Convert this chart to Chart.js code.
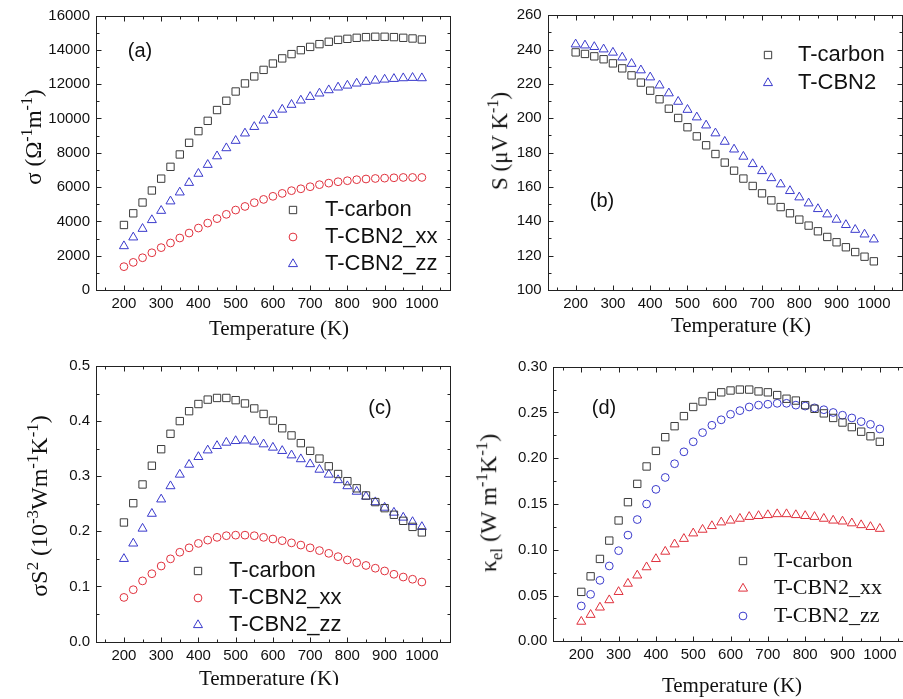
<!DOCTYPE html>
<html>
<head>
<meta charset="utf-8">
<script src="https://cdn.jsdelivr.net/npm/chart.js@4.4.0/dist/chart.umd.min.js"></script>
<style>
    body { margin: 0; background: #fff; }
    #page { position: relative; width: 903px; height: 699px; overflow: hidden; background: #fff; }
    canvas { position: absolute; }
    .ytitle { position: absolute; font-family: "Liberation Serif", "Times New Roman", serif; font-size: 22px; white-space: nowrap; color: #111; transform: translate(-50%, -50%) rotate(-90deg); line-height: 1; }
    .ytitle sup, .ytitle sub { font-size: 70%; }
    .xtitle { position: absolute; font-family: "Liberation Serif", "Times New Roman", serif; font-size: 21px; white-space: nowrap; color: #111; transform: translate(-50%, -50%); }
    .tag { position: absolute; font-family: "Liberation Sans", Arial, sans-serif; font-size: 20px; color: #111; transform: translate(-50%, -50%); }
    #clipC { position: absolute; left: 0; top: 660px; width: 460px; height: 25px; overflow: hidden; }
</style>
</head>
<body>
<div id="page">
    <canvas id="chartA" width="456" height="340" style="left:0px;top:0px"></canvas>
    <canvas id="chartB" width="456" height="340" style="left:452px;top:0px"></canvas>
    <canvas id="chartC" width="456" height="340" style="left:0px;top:350px"></canvas>
    <canvas id="chartD" width="457" height="340" style="left:457px;top:350px"></canvas>

    <div class="ytitle" style="left:32px;top:137px;font-size:23px">σ (Ω<sup>-1</sup>m<sup>-1</sup>)</div>
    <div class="ytitle" style="left:498px;top:141px;font-size:23px">S (μV K<sup>-1</sup>)</div>
    <div class="ytitle" style="left:38px;top:506px;font-size:24px">σS<sup>2</sup> (10<sup>-3</sup>Wm<sup>-1</sup>K<sup>-1</sup>)</div>
    <div class="ytitle" style="left:490px;top:503px;font-size:24px">κ<sub>el</sub> (W m<sup>-1</sup>K<sup>-1</sup>)</div>

    <div class="xtitle" style="left:279px;top:328px">Temperature (K)</div>
    <div class="xtitle" style="left:741px;top:325px">Temperature (K)</div>
    <div id="clipC"><div class="xtitle" style="left:269px;top:18px">Temperature (K)</div></div>
    <div class="xtitle" style="left:732px;top:685px">Temperature (K)</div>

    <div class="tag" style="left:140px;top:50px">(a)</div>
    <div class="tag" style="left:602px;top:200px">(b)</div>
    <div class="tag" style="left:380px;top:407px">(c)</div>
    <div class="tag" style="left:604px;top:407px">(d)</div>
</div>
<script>
var temps = [200, 225, 250, 275, 300, 325, 350, 375, 400, 425, 450, 475, 500, 525, 550, 575, 600,
    625, 650, 675, 700, 725, 750, 775, 800, 825, 850, 875, 900, 925, 950, 975, 1000];
var xTicks = [200, 300, 400, 500, 600, 700, 800, 900, 1000];

// (a) electrical conductivity
var sigmaCarbon = [3790, 4470, 5100, 5800, 6490, 7180, 7900, 8580, 9260, 9860, 10490, 11030, 11570, 12040, 12450, 12830, 13200,
    13500, 13750, 13980, 14170, 14330, 14470, 14580, 14640, 14700, 14740, 14760, 14760, 14740, 14700, 14660, 14600];
var sigmaXX = [1360, 1610, 1880, 2170, 2470, 2740, 3030, 3320, 3610, 3900, 4160, 4410, 4660, 4870, 5090, 5280, 5460,
    5630, 5790, 5900, 6020, 6140, 6230, 6310, 6370, 6430, 6470, 6500, 6520, 6540, 6560, 6560, 6560];
var sigmaZZ = [2560, 3070, 3570, 4080, 4620, 5170, 5690, 6250, 6780, 7300, 7800, 8270, 8700, 9130, 9510, 9880, 10210,
    10520, 10800, 11050, 11260, 11460, 11650, 11810, 11920, 12040, 12140, 12210, 12270, 12310, 12350, 12370, 12350];
var sigmaTicks = [0, 2000, 4000, 6000, 8000, 10000, 12000, 14000, 16000];

// (b) Seebeck coefficient
var seebeckCarbon = [238.4, 237.5, 236.1, 234.4, 232.0, 229.1, 225.0, 220.8, 216.1, 211.1, 205.6, 200.2, 194.8, 189.5, 184.3, 179.2, 174.2,
    169.5, 164.9, 160.6, 156.3, 152.2, 148.3, 144.7, 141.0, 137.5, 134.2, 130.9, 127.8, 124.9, 122.1, 119.4, 116.7];
var seebeckCBN2 = [243.1, 242.5, 241.6, 240.2, 238.3, 235.5, 231.8, 228.0, 223.9, 219.2, 214.6, 209.7, 205.0, 200.6, 195.9, 191.3, 186.4,
    181.9, 177.7, 173.4, 169.3, 165.2, 161.6, 157.7, 154.0, 150.5, 147.2, 144.1, 141.0, 137.9, 135.1, 132.4, 129.5];
var seebeckTicks = [100, 120, 140, 160, 180, 200, 220, 240, 260];

// (c) power factor
var pfCarbon = [0.216, 0.251, 0.285, 0.319, 0.349, 0.377, 0.400, 0.418, 0.431, 0.439, 0.442, 0.442, 0.438, 0.432, 0.423, 0.413, 0.401,
    0.387, 0.374, 0.360, 0.346, 0.332, 0.318, 0.304, 0.291, 0.278, 0.265, 0.253, 0.242, 0.230, 0.219, 0.208, 0.198];
var pfXX = [0.080, 0.094, 0.110, 0.123, 0.137, 0.150, 0.162, 0.170, 0.178, 0.184, 0.189, 0.192, 0.193, 0.193, 0.192, 0.189, 0.186,
    0.183, 0.179, 0.175, 0.170, 0.165, 0.160, 0.154, 0.148, 0.143, 0.138, 0.133, 0.128, 0.122, 0.117, 0.113, 0.108];
var pfZZ = [0.150, 0.178, 0.205, 0.232, 0.258, 0.282, 0.303, 0.321, 0.335, 0.347, 0.355, 0.361, 0.364, 0.365, 0.363, 0.358, 0.352,
    0.346, 0.338, 0.331, 0.322, 0.312, 0.303, 0.293, 0.282, 0.272, 0.263, 0.253, 0.243, 0.234, 0.225, 0.217, 0.208];
var pfTicks = [0, 0.1, 0.2, 0.3, 0.4, 0.5];

// (d) electronic thermal conductivity
var kappaCarbon = [0.054, 0.071, 0.090, 0.110, 0.132, 0.152, 0.172, 0.191, 0.208, 0.223, 0.235, 0.246, 0.256, 0.262, 0.268, 0.272, 0.274,
    0.275, 0.275, 0.273, 0.272, 0.269, 0.265, 0.263, 0.258, 0.254, 0.249, 0.244, 0.239, 0.234, 0.229, 0.224, 0.218];
var kappaXX = [0.0215, 0.029, 0.037, 0.045, 0.054, 0.063, 0.072, 0.081, 0.090, 0.098, 0.106, 0.112, 0.118, 0.122, 0.126, 0.130, 0.132,
    0.134, 0.136, 0.137, 0.138, 0.139, 0.139, 0.138, 0.137, 0.136, 0.134, 0.132, 0.131, 0.129, 0.127, 0.125, 0.123];
var kappaZZ = [0.0386, 0.0513, 0.0666, 0.0823, 0.099, 0.116, 0.133, 0.150, 0.166, 0.179, 0.194, 0.207, 0.218, 0.228, 0.236, 0.242, 0.248,
    0.252, 0.256, 0.258, 0.259, 0.260, 0.260, 0.258, 0.257, 0.255, 0.253, 0.250, 0.247, 0.244, 0.240, 0.237, 0.232];
var kappaTicks = [0, 0.05, 0.10, 0.15, 0.20, 0.25, 0.30];

var BLACK = '#3c3c3c', RED = '#e0303c', BLUE = '#3a3acc';
var SANS = '"Liberation Sans", Arial, sans-serif';
var SERIF = '"Liberation Serif", "Times New Roman", serif';

function points(values) {
    return temps.map(function (t, i) { return { x: t, y: values[i] }; });
}

function series(label, values, color, style) {
    var r = style === 'circle' ? 3.9 : 5.2;
    return {
        label: label, data: points(values), pointStyle: style, pointRadius: r,
        borderColor: color, backgroundColor: 'rgba(0,0,0,0)', pointBorderWidth: 1, showLine: false
    };
}

// box around the plot with inward major and minor ticks on all sides
function drawTicks(ctx, scale, ticks, fixedA, fixedB, horizontal) {
    var step = ticks[1] - ticks[0], half = step / 2;
    var v = ticks[0];
    while (v - half >= scale.min - 1e-9) v -= half;
    for (; v <= scale.max + 1e-9; v += half) {
        var k = (v - ticks[0]) / step;
        var len = Math.abs(k - Math.round(k)) < 1e-6 ? 5 : 3;
        var p = Math.round(scale.getPixelForValue(v)) + 0.5;
        if (horizontal) {
            ctx.moveTo(p, fixedA); ctx.lineTo(p, fixedA - len);
            ctx.moveTo(p, fixedB); ctx.lineTo(p, fixedB + len);
        } else {
            ctx.moveTo(fixedA, p); ctx.lineTo(fixedA + len, p);
            ctx.moveTo(fixedB, p); ctx.lineTo(fixedB - len, p);
        }
    }
}

var framePlugin = {
    id: 'frame',
    afterDraw: function (chart) {
        var a = chart.chartArea, ctx = chart.ctx;
        var opt = chart.options.plugins.frame;
        var l = Math.round(a.left) + 0.5, r = Math.round(a.right) + 0.5;
        var t = Math.round(a.top) + 0.5, b = Math.round(a.bottom) + 0.5;
        ctx.save();
        ctx.strokeStyle = '#222';
        ctx.lineWidth = 1;
        ctx.strokeRect(l, t, r - l, b - t);
        ctx.beginPath();
        drawTicks(ctx, chart.scales.x, xTicks, b, t, true);
        drawTicks(ctx, chart.scales.y, opt.yTicks, l, r, false);
        ctx.stroke();
        ctx.restore();
    }
};

var legendPlugin = {
    id: 'boxLegend',
    afterDraw: function (chart) {
        var o = chart.options.plugins.boxLegend;
        var ctx = chart.ctx;
        chart.data.datasets.forEach(function (ds, i) {
            var y = o.y + i * o.dy;
            ctx.save();
            ctx.strokeStyle = ds.borderColor;
            ctx.fillStyle = 'rgba(0,0,0,0)';
            ctx.lineWidth = 1;
            Chart.helpers.drawPoint(ctx, { pointStyle: ds.pointStyle, radius: ds.pointRadius, borderWidth: 1, rotation: 0 }, o.markerX, y);
            ctx.fillStyle = '#111';
            ctx.font = o.font;
            ctx.textBaseline = 'middle';
            ctx.fillText(ds.label, o.textX, y);
            ctx.restore();
        });
    }
};

function makePanel(id, datasets, p) {
    var tickFont = { family: SANS, size: 15 };
    new Chart(document.getElementById(id), {
        type: 'scatter',
        data: { datasets: datasets },
        options: {
            responsive: false,
            animation: false,
            layout: { padding: { top: p.padTop, right: p.padRight, left: 0, bottom: 0 } },
            scales: {
                x: {
                    type: 'linear', min: 125, max: 1075,
                    grid: { display: false, drawTicks: false }, border: { display: false },
                    ticks: {
                        font: tickFont, color: '#111', padding: 5, maxRotation: 0, autoSkip: false,
                        callback: function (v) { return String(v); }
                    },
                    afterBuildTicks: function (s) { s.ticks = xTicks.map(function (v) { return { value: v }; }); },
                    afterFit: function (s) { s.height = p.xHeight; }
                },
                y: {
                    type: 'linear', min: p.yTicks[0], max: p.yTicks[p.yTicks.length - 1],
                    grid: { display: false, drawTicks: false }, border: { display: false },
                    ticks: {
                        font: tickFont, color: '#111', padding: 6,
                        callback: function (v) { return p.decimals ? Number(v).toFixed(p.decimals) : String(v); }
                    },
                    afterBuildTicks: function (s) { s.ticks = p.yTicks.map(function (v) { return { value: v }; }); },
                    afterFit: function (s) { s.width = p.yWidth; }
                }
            },
            plugins: {
                legend: { display: false },
                tooltip: { enabled: false },
                frame: { yTicks: p.yTicks },
                boxLegend: p.legend
            }
        },
        plugins: [framePlugin, legendPlugin]
    });
}

makePanel('chartA', [
    series('T-carbon', sigmaCarbon, BLACK, 'rect'),
    series('T-CBN2_xx', sigmaXX, RED, 'circle'),
    series('T-CBN2_zz', sigmaZZ, BLUE, 'triangle')
], {
    yTicks: sigmaTicks, decimals: 0, padTop: 15.5, padRight: 3.3, xHeight: 50, yWidth: 96,
    legend: { markerX: 293, textX: 325, y: 210, dy: 27, font: '22px ' + SANS }
});

makePanel('chartB', [
    series('T-carbon', seebeckCarbon, BLACK, 'rect'),
    series('T-CBN2', seebeckCBN2, BLUE, 'triangle')
], {
    yTicks: seebeckTicks, decimals: 0, padTop: 15.3, padRight: 3, xHeight: 50, yWidth: 95.7,
    legend: { markerX: 316, textX: 346, y: 55, dy: 28, font: '22px ' + SANS }
});

makePanel('chartC', [
    series('T-carbon', pfCarbon, BLACK, 'rect'),
    series('T-CBN2_xx', pfXX, RED, 'circle'),
    series('T-CBN2_zz', pfZZ, BLUE, 'triangle')
], {
    yTicks: pfTicks, decimals: 1, padTop: 16, padRight: 3.3, xHeight: 48.5, yWidth: 96,
    legend: { markerX: 198, textX: 229, y: 221, dy: 27, font: '22px ' + SANS }
});

makePanel('chartD', [
    series('T-carbon', kappaCarbon, BLACK, 'rect'),
    series('T-CBN2_xx', kappaXX, RED, 'triangle'),
    series('T-CBN2_zz', kappaZZ, BLUE, 'circle')
], {
    yTicks: kappaTicks, decimals: 2, padTop: 16.7, padRight: 2.4, xHeight: 48.7, yWidth: 96.3,
    legend: { markerX: 286, textX: 317, y: 211, dy: 27.5, font: '22px ' + SERIF }
});
</script>
</body>
</html>
